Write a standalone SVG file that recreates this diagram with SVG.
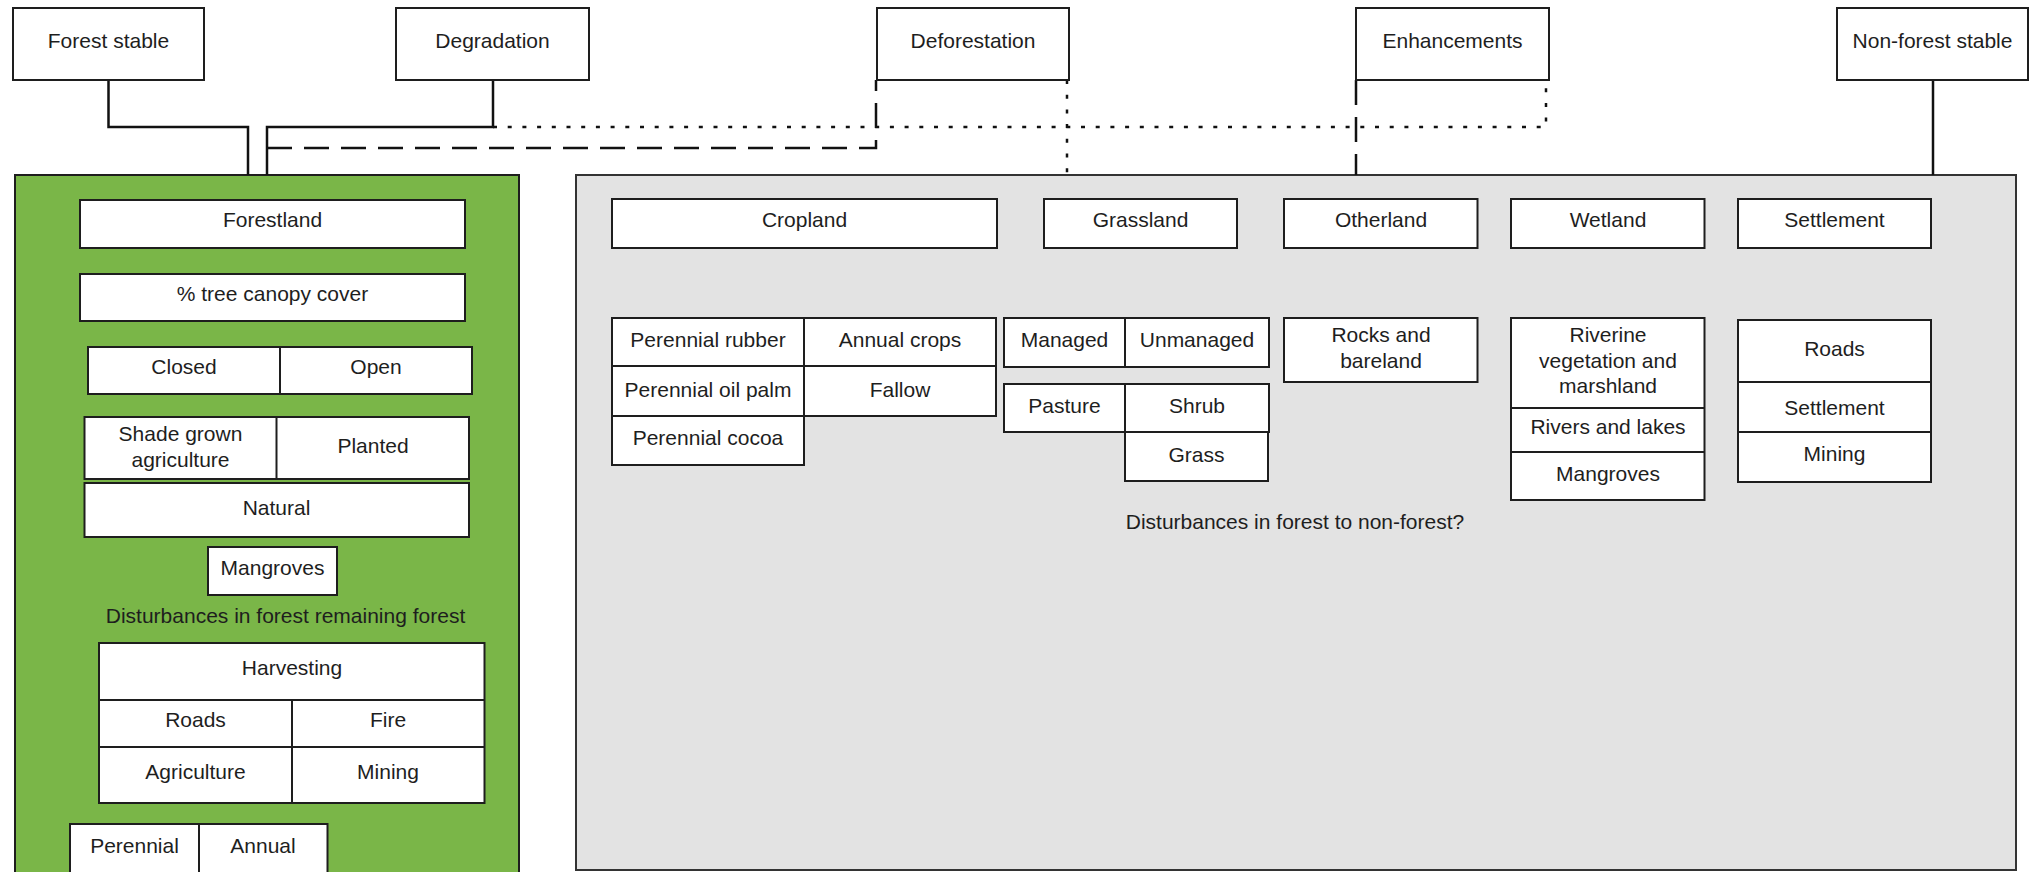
<svg xmlns="http://www.w3.org/2000/svg" width="2029" height="872" viewBox="0 0 2029 872">
<style>
  .box { fill: #ffffff; stroke: #1e1e1e; stroke-width: 2; }
  .cell { fill: none; stroke: #1e1e1e; stroke-width: 2; }
  .t { font-family: "Liberation Sans", Arial, sans-serif; font-size: 21px; fill: #1e1e1e; text-anchor: middle; }
  .conn { fill: none; stroke: #111111; stroke-width: 2.5; }
  .dash { stroke-dasharray: 25 12; }
  .dot { stroke-dasharray: 4 10.7; }
</style>
<rect width="2029" height="872" fill="#ffffff"/>

<!-- containers -->
<g id="forest-container">
  <rect x="15" y="175" width="504" height="720" fill="#7ab648" stroke="#1e1e1e" stroke-width="2"/>
</g>
<g id="nonforest-container">
  <rect x="576" y="175" width="1440" height="695" fill="#e3e3e3" stroke="#333333" stroke-width="2"/>
</g>

<!-- connectors -->
<g id="connectors">
  <polyline class="conn" points="108.5,80 108.5,127 248,127 248,175"/>
  <polyline class="conn" points="493,80 493,127 267,127 267,175"/>
  <polyline class="conn dot" points="493,127 1546,127 1546,80"/>
  <polyline class="conn dash" points="267,148 876,148 876,80"/>
  <line class="conn dot" x1="1067" y1="80" x2="1067" y2="175"/>
  <line class="conn dash" x1="1356" y1="80" x2="1356" y2="175"/>
  <line class="conn" x1="1933" y1="80" x2="1933" y2="175"/>
</g>

<!-- top nodes -->
<g id="forest-stable">
  <rect class="box" x="13" y="8" width="191" height="72"/>
  <text class="t" x="108.5" y="48">Forest stable</text>
</g>
<g id="degradation">
  <rect class="box" x="396" y="8" width="193" height="72"/>
  <text class="t" x="492.5" y="48">Degradation</text>
</g>
<g id="deforestation">
  <rect class="box" x="877" y="8" width="192" height="72"/>
  <text class="t" x="973" y="48">Deforestation</text>
</g>
<g id="enhancements">
  <rect class="box" x="1356" y="8" width="193" height="72"/>
  <text class="t" x="1452.5" y="48">Enhancements</text>
</g>
<g id="non-forest-stable">
  <rect class="box" x="1837" y="8" width="191" height="72"/>
  <text class="t" x="1932.5" y="48">Non-forest stable</text>
</g>

<!-- forest side -->
<g id="forestland">
  <rect class="box" x="80" y="200" width="385" height="48"/>
  <text class="t" x="272.5" y="227">Forestland</text>
</g>
<g id="tree-canopy">
  <rect class="box" x="80" y="274" width="385" height="47"/>
  <text class="t" x="272.5" y="301">% tree canopy cover</text>
</g>
<g id="closed-open">
  <rect class="box" x="88" y="347" width="384" height="47"/>
  <line class="cell" x1="280" y1="347" x2="280" y2="394"/>
  <text class="t" x="184" y="374">Closed</text>
  <text class="t" x="376" y="374">Open</text>
</g>
<g id="shade-planted">
  <rect class="box" x="84.5" y="417" width="384.5" height="62"/>
  <line class="cell" x1="276.5" y1="417" x2="276.5" y2="479"/>
  <text class="t" x="180.5" y="440.5">Shade grown</text>
  <text class="t" x="180.5" y="466.5">agriculture</text>
  <text class="t" x="373" y="453">Planted</text>
</g>
<g id="natural">
  <rect class="box" x="84.5" y="483" width="384.5" height="54"/>
  <text class="t" x="276.5" y="515">Natural</text>
</g>
<g id="mangroves-forest">
  <rect class="box" x="208" y="547" width="129" height="48"/>
  <text class="t" x="272.5" y="575">Mangroves</text>
</g>
<g id="label-remaining">
  <text class="t" x="285.5" y="623">Disturbances in forest remaining forest</text>
</g>
<g id="disturbances-forest">
  <rect class="box" x="99" y="643" width="385.5" height="160"/>
  <line class="cell" x1="99" y1="700" x2="484.5" y2="700"/>
  <line class="cell" x1="99" y1="747" x2="484.5" y2="747"/>
  <line class="cell" x1="292" y1="700" x2="292" y2="803"/>
  <text class="t" x="292" y="675">Harvesting</text>
  <text class="t" x="195.5" y="727">Roads</text>
  <text class="t" x="388" y="727">Fire</text>
  <text class="t" x="195.5" y="779">Agriculture</text>
  <text class="t" x="388" y="779">Mining</text>
</g>
<g id="perennial-annual">
  <rect class="box" x="70" y="824" width="257.5" height="70"/>
  <line class="cell" x1="199" y1="824" x2="199" y2="894"/>
  <text class="t" x="134.5" y="853">Perennial</text>
  <text class="t" x="263" y="853">Annual</text>
</g>

<!-- non-forest side -->
<g id="cropland">
  <rect class="box" x="612" y="199" width="385" height="49"/>
  <text class="t" x="804.5" y="227">Cropland</text>
</g>
<g id="grassland">
  <rect class="box" x="1044" y="199" width="193" height="49"/>
  <text class="t" x="1140.5" y="227">Grassland</text>
</g>
<g id="otherland">
  <rect class="box" x="1284" y="199" width="193.5" height="49"/>
  <text class="t" x="1381" y="227">Otherland</text>
</g>
<g id="wetland">
  <rect class="box" x="1511" y="199" width="193.5" height="49"/>
  <text class="t" x="1608" y="227">Wetland</text>
</g>
<g id="settlement">
  <rect class="box" x="1738" y="199" width="193" height="49"/>
  <text class="t" x="1834.5" y="227">Settlement</text>
</g>

<g id="crop-types">
  <rect class="box" x="612" y="318" width="384" height="48"/>
  <line class="cell" x1="804" y1="318" x2="804" y2="366"/>
  <rect class="box" x="612" y="366" width="384" height="50"/>
  <line class="cell" x1="804" y1="366" x2="804" y2="416"/>
  <rect class="box" x="612" y="416" width="192" height="49"/>
  <text class="t" x="708" y="347">Perennial rubber</text>
  <text class="t" x="900" y="347">Annual crops</text>
  <text class="t" x="708" y="397">Perennial oil palm</text>
  <text class="t" x="900" y="397">Fallow</text>
  <text class="t" x="708" y="445">Perennial cocoa</text>
</g>
<g id="grass-types">
  <rect class="box" x="1004" y="318" width="265" height="49"/>
  <line class="cell" x1="1125" y1="318" x2="1125" y2="367"/>
  <rect class="box" x="1004" y="384" width="121" height="48"/>
  <rect class="box" x="1125" y="384" width="144" height="48"/>
  <rect class="box" x="1125" y="432" width="143" height="49"/>
  <text class="t" x="1064.5" y="347">Managed</text>
  <text class="t" x="1197" y="347">Unmanaged</text>
  <text class="t" x="1064.5" y="413">Pasture</text>
  <text class="t" x="1197" y="413">Shrub</text>
  <text class="t" x="1196.5" y="462">Grass</text>
</g>
<g id="other-types">
  <rect class="box" x="1284" y="318" width="193.5" height="64"/>
  <text class="t" x="1381" y="342">Rocks and</text>
  <text class="t" x="1381" y="368">bareland</text>
</g>
<g id="wet-types">
  <rect class="box" x="1511" y="318" width="193.5" height="182"/>
  <line class="cell" x1="1511" y1="408" x2="1704.5" y2="408"/>
  <line class="cell" x1="1511" y1="452" x2="1704.5" y2="452"/>
  <text class="t" x="1608" y="342">Riverine</text>
  <text class="t" x="1608" y="368">vegetation and</text>
  <text class="t" x="1608" y="393">marshland</text>
  <text class="t" x="1608" y="434">Rivers and lakes</text>
  <text class="t" x="1608" y="481">Mangroves</text>
</g>
<g id="settlement-types">
  <rect class="box" x="1738" y="320" width="193" height="162"/>
  <line class="cell" x1="1738" y1="382" x2="1931" y2="382"/>
  <line class="cell" x1="1738" y1="432" x2="1931" y2="432"/>
  <text class="t" x="1834.5" y="356">Roads</text>
  <text class="t" x="1834.5" y="415">Settlement</text>
  <text class="t" x="1834.5" y="461">Mining</text>
</g>
<g id="label-nonforest">
  <text class="t" x="1295" y="529">Disturbances in forest to non-forest?</text>
</g>
</svg>
